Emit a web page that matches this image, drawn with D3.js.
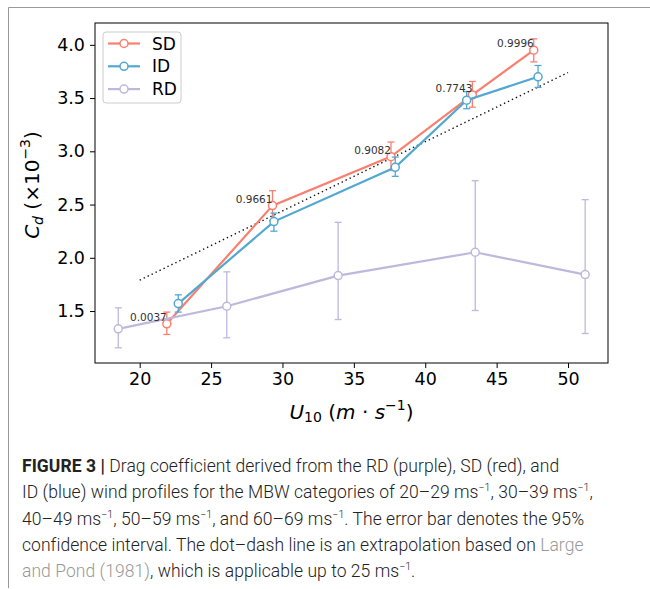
<!DOCTYPE html>
<html>
<head>
<meta charset="utf-8">
<script src="https://cdn.jsdelivr.net/npm/d3@7"></script>
<style>
  body { margin: 0; background: #fff; }
  svg { display: block; }
</style>
</head>
<body>
<script>
// wind speed (m/s) and drag coefficient (x10^-3) with 95% CI bounds
var sdU = [21.9, 29.3, 37.6, 43.3, 47.6];
var sdCd = [1.38, 2.49, 2.95, 3.53, 3.95];
var sdLo = [1.28, 2.35, 2.82, 3.415, 3.84];
var sdHi = [1.49, 2.63, 3.087, 3.656, 4.056];
var sdLabels = ["0.0037", "0.9661", "0.9082", "0.7743", "0.9996"];

var idU = [22.7, 29.4, 37.9, 42.9, 47.9];
var idCd = [1.57, 2.34, 2.85, 3.48, 3.70];
var idLo = [1.49, 2.25, 2.765, 3.40, 3.60];
var idHi = [1.652, 2.42, 2.946, 3.56, 3.806];

var rdU = [18.5, 26.1, 33.9, 43.5, 51.2];
var rdCd = [1.333, 1.545, 1.833, 2.052, 1.842];
var rdLo = [1.155, 1.249, 1.42, 1.505, 1.289];
var rdHi = [1.53, 1.868, 2.333, 2.724, 2.546];

// Large and Pond (1981) extrapolation
var lpU = [20, 50];
var lpCd = [1.79, 3.74];

var xTicks = [20, 25, 30, 35, 40, 45, 50];
var yTicks = [1.5, 2.0, 2.5, 3.0, 3.5, 4.0];

var colors = { SD: "#FA7F6F", ID: "#52A8D0", RD: "#BEB8DC" };

var W = 650, H = 589;
var margin = { top: 23, right: 42, bottom: 226, left: 95 },
    width = W - margin.left - margin.right,
    height = H - margin.top - margin.bottom;

var svg = d3.select("body").append("svg")
    .attr("width", W)
    .attr("height", H);

// page border
svg.append("path")
    .attr("d", "M8.5,588 V7.5 H650")
    .attr("fill", "none")
    .attr("stroke", "#999")
    .attr("stroke-width", 1);

var g = svg.append("g")
    .attr("transform", "translate(" + margin.left + "," + margin.top + ")");

var x = d3.scaleLinear().domain([16.87, 52.8]).range([0, width]);
var y = d3.scaleLinear().domain([1.012, 4.205]).range([height, 0]);

// axes
var xAxis = g.append("g")
    .attr("transform", "translate(0," + height + ")")
    .call(d3.axisBottom(x).tickValues(xTicks).tickSize(5).tickPadding(5).tickFormat(d3.format("d")));
var yAxis = g.append("g")
    .call(d3.axisLeft(y).tickValues(yTicks).tickSize(5).tickPadding(5).tickFormat(d3.format(".1f")));

[xAxis, yAxis].forEach(function (a) {
    a.select(".domain").remove();
    a.selectAll("line").attr("stroke", "#000").attr("stroke-width", 1);
    a.selectAll("text")
        .attr("font-family", "DejaVu Sans")
        .attr("font-size", 17.5)
        .attr("fill", "#000");
});

// frame
g.append("rect")
    .attr("width", width)
    .attr("height", height)
    .attr("fill", "none")
    .attr("stroke", "#000")
    .attr("stroke-width", 1);

// dotted extrapolation line
g.append("line")
    .attr("x1", x(lpU[0])).attr("y1", y(lpCd[0]))
    .attr("x2", x(lpU[1])).attr("y2", y(lpCd[1]))
    .attr("stroke", "#111")
    .attr("stroke-width", 1.4)
    .attr("stroke-dasharray", "1.4,3");

function series(us, cds, los, his, color) {
    var pts = us.map(function (u, i) { return { u: u, c: cds[i], lo: los[i], hi: his[i] }; });
    var eb = g.append("g");
    pts.forEach(function (d) {
        var cx = x(d.u);
        eb.append("line")
            .attr("x1", cx).attr("x2", cx)
            .attr("y1", y(d.lo)).attr("y2", y(d.hi))
            .attr("stroke", color).attr("stroke-width", 1.3);
        [d.lo, d.hi].forEach(function (v) {
            eb.append("line")
                .attr("x1", cx - 3.5).attr("x2", cx + 3.5)
                .attr("y1", y(v)).attr("y2", y(v))
                .attr("stroke", color).attr("stroke-width", 1.3);
        });
    });
    g.append("path")
        .datum(pts)
        .attr("fill", "none")
        .attr("stroke", color)
        .attr("stroke-width", 2.2)
        .attr("d", d3.line().x(function (d) { return x(d.u); }).y(function (d) { return y(d.c); }));
    g.selectAll(null)
        .data(pts)
        .enter().append("circle")
        .attr("cx", function (d) { return x(d.u); })
        .attr("cy", function (d) { return y(d.c); })
        .attr("r", 4)
        .attr("fill", "#fff")
        .attr("stroke", color)
        .attr("stroke-width", 1.5);
}

series(sdU, sdCd, sdLo, sdHi, colors.SD);
series(idU, idCd, idLo, idHi, colors.ID);
series(rdU, rdCd, rdLo, rdHi, colors.RD);

// value labels on SD points
sdLabels.forEach(function (t, i) {
    g.append("text")
        .attr("x", x(sdU[i]))
        .attr("y", y(sdCd[i]) - 3)
        .attr("text-anchor", "end")
        .attr("font-family", "DejaVu Sans")
        .attr("font-size", 10.5)
        .attr("fill", "#333")
        .text(t);
});

// legend
var lg = svg.append("g").attr("transform", "translate(103,32)");
lg.append("rect")
    .attr("width", 78).attr("height", 71)
    .attr("rx", 3)
    .attr("fill", "#fff").attr("fill-opacity", 0.8)
    .attr("stroke", "#ccc").attr("stroke-width", 1);
["SD", "ID", "RD"].forEach(function (k, i) {
    var yy = 11.5 + i * 22.8;
    lg.append("line")
        .attr("x1", 5).attr("x2", 37).attr("y1", yy).attr("y2", yy)
        .attr("stroke", colors[k]).attr("stroke-width", 2.2);
    lg.append("circle")
        .attr("cx", 21).attr("cy", yy).attr("r", 4)
        .attr("fill", "#fff").attr("stroke", colors[k]).attr("stroke-width", 1.5);
    lg.append("text")
        .attr("x", 49).attr("y", yy + 6)
        .attr("font-family", "DejaVu Sans")
        .attr("font-size", 17)
        .text(k);
});

// axis labels
var xl = svg.append("text")
    .attr("x", margin.left + width / 2)
    .attr("y", 419)
    .attr("text-anchor", "middle")
    .attr("font-family", "DejaVu Sans")
    .attr("font-size", 20);
xl.append("tspan").attr("font-style", "italic").text("U");
xl.append("tspan").attr("font-size", 14).attr("dy", 3).text("10");
xl.append("tspan").attr("dy", -3).text(" (");
xl.append("tspan").attr("font-style", "italic").text("m");
xl.append("tspan").text(" · ");
xl.append("tspan").attr("font-style", "italic").text("s");
xl.append("tspan").attr("font-size", 14).attr("dy", -9).text("−1");
xl.append("tspan").attr("dy", 9).text(")");

var yl = svg.append("text")
    .attr("transform", "translate(39,185) rotate(-90)")
    .attr("text-anchor", "middle")
    .attr("font-family", "DejaVu Sans")
    .attr("font-size", 20);
yl.append("tspan").attr("font-style", "italic").text("C");
yl.append("tspan").attr("font-style", "italic").attr("font-size", 14).attr("dy", 4).text("d");
yl.append("tspan").attr("dy", -4).text(" (×10");
yl.append("tspan").attr("font-size", 14).attr("dy", -9).text("−3");
yl.append("tspan").attr("dy", 9).text(")");

// caption
var capLines = [
    [["b", "FIGURE 3 | "], ["n", "Drag coefficient derived from the RD (purple), SD (red), and"]],
    [["n", "ID (blue) wind profiles for the MBW categories of 20–29 ms"], ["s", "−1"], ["n", ", 30–39 ms"], ["s", "−1"], ["n", ","]],
    [["n", "40–49 ms"], ["s", "−1"], ["n", ", 50–59 ms"], ["s", "−1"], ["n", ", and 60–69 ms"], ["s", "−1"], ["n", ". The error bar denotes the 95%"]],
    [["n", "confidence interval. The dot–dash line is an extrapolation based on "], ["l", "Large"]],
    [["l", "and Pond (1981)"], ["n", ", which is applicable up to 25 ms"], ["s", "−1"], ["n", "."]]
];
capLines.forEach(function (parts, i) {
    var t = svg.append("text")
        .attr("x", 22)
        .attr("y", 472 + i * 26.3)
        .attr("font-family", "Roboto")
        .attr("font-weight", 300)
        .attr("font-size", 17.5)
        .attr("letter-spacing", 0.05)
        .attr("fill", "#222");
    parts.forEach(function (p, j) {
        var s = t.append("tspan").text(p[1]);
        if (p[0] === "b") s.attr("font-weight", 700);
        if (p[0] === "l") s.attr("fill", "#999");
        if (p[0] === "s") s.attr("font-size", 10.5).attr("dy", -7);
        if (p[0] !== "s" && j > 0 && parts[j - 1][0] === "s") s.attr("dy", 7);
    });
});
</script>
</body>
</html>
